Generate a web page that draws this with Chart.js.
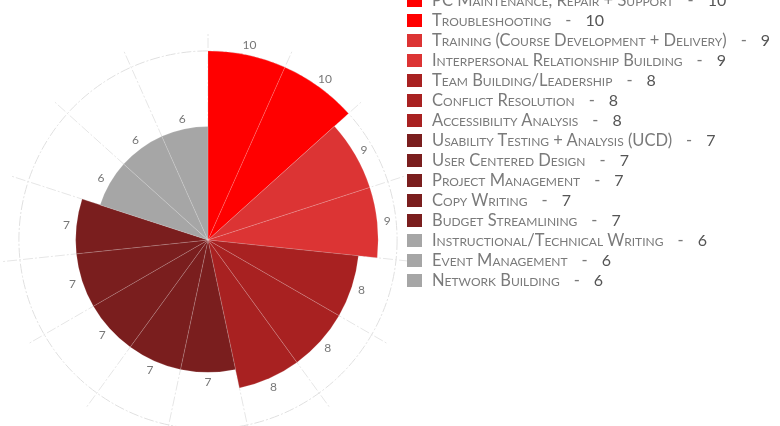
<html>

<head>
  <style>
    body { margin: 0; width: 780px; height: 426px; overflow: hidden; background: #fff; position: relative; }
    #chartBox { position: absolute; left: 0; top: 0; width: 416px; height: 480px; }
    #skills { position: absolute; left: 407px; top: -10px; margin: 0; padding: 0; list-style: none;
      font-family: Lato, sans-serif; font-size: 16.5px; font-variant: small-caps; color: #7a7a7a; }
    #skills li { height: 20px; line-height: 20px; white-space: nowrap; }
    #skills .box { display: inline-block; width: 15px; height: 13px; vertical-align: -1px; margin-right: 10px; }
    #skills .dash { margin: 0 14px 0 14px; }
    #skills .num { color: #555; font-size: 16px; }
  </style>
</head>
<script src="https://cdn.jsdelivr.net/npm/chart.js"></script>

<body>
  <div id="chartBox"><canvas id="myChart"></canvas></div>
  <ul id="skills"></ul>
</body>

<script>

  const skills = [
    'PC Maintenance, Repair + Support',
    'Troubleshooting',
    'Training (Course Development + Delivery)',
    'Interpersonal Relationship Building',
    'Team Building/Leadership',
    'Conflict Resolution',
    'Accessibility Analysis',
    'Usability Testing + Analysis (UCD)',
    'User Centered Design',
    'Project Management',
    'Copy Writing',
    'Budget Streamlining',
    'Instructional/Technical Writing',
    'Event Management',
    'Network Building'
  ];
  const scores = [10, 10, 9, 9, 8, 8, 8, 7, 7, 7, 7, 7, 6, 6, 6];

  // one shade per score level
  const shade = { 10: '#ff0000', 9: '#dc3434', 8: '#a82121', 7: '#7a1e1e', 6: '#a6a6a6' };
  const colors = scores.map(s => shade[s]);

  // score written just outside each slice
  const scoreLabels = {
    id: 'scoreLabels',
    afterDatasetsDraw(chart) {
      const ctx = chart.ctx;
      const meta = chart.getDatasetMeta(0);
      ctx.save();
      ctx.font = '12px Lato, sans-serif';
      ctx.fillStyle = '#777';
      ctx.textAlign = 'center';
      ctx.textBaseline = 'middle';
      meta.data.forEach(function (arc, i) {
        const p = arc.getProps(['x', 'y', 'startAngle', 'endAngle', 'outerRadius'], true);
        const mid = (p.startAngle + p.endAngle) / 2;
        const r = p.outerRadius + 10;
        ctx.fillText(scores[i], p.x + Math.cos(mid) * r, p.y + Math.sin(mid) * r);
      });
      ctx.restore();
    }
  };

  const config = {
    type: 'polarArea',
    data: {
      labels: skills,
      datasets: [{
        data: scores,
        backgroundColor: colors,
        borderColor: 'rgba(255, 255, 255, 0.15)',
        borderWidth: 1
      }]
    },
    options: {
      responsive: true,
      maintainAspectRatio: false,
      animation: false,
      layout: { padding: 0 },
      plugins: {
        legend: { display: false },
        tooltip: { enabled: false }
      },
      scales: {
        r: {
          min: 0,
          max: 11,
          ticks: { display: false, stepSize: 10 },
          pointLabels: { display: false },
          grid: {
            circular: true,
            lineWidth: 1,
            color: (c) => c.tick && c.tick.value === 10 ? '#e0e0e0' : 'transparent'
          },
          border: { dash: [10, 2, 2, 2] },
          angleLines: {
            display: true,
            color: '#e6e6e6',
            lineWidth: 1,
            borderDash: [10, 2, 2, 2]
          }
        }
      }
    },
    plugins: [scoreLabels]
  };

  const myChart = new Chart(document.getElementById('myChart'), config);

  // legend list next to the chart
  const list = document.getElementById('skills');
  skills.forEach(function (name, i) {
    const li = document.createElement('li');
    li.innerHTML = '<span class="box" style="background:' + colors[i] + '"></span>' +
      name + '<span class="dash">-</span><span class="num">' + scores[i] + '</span>';
    list.appendChild(li);
  });
</script>

</html>
